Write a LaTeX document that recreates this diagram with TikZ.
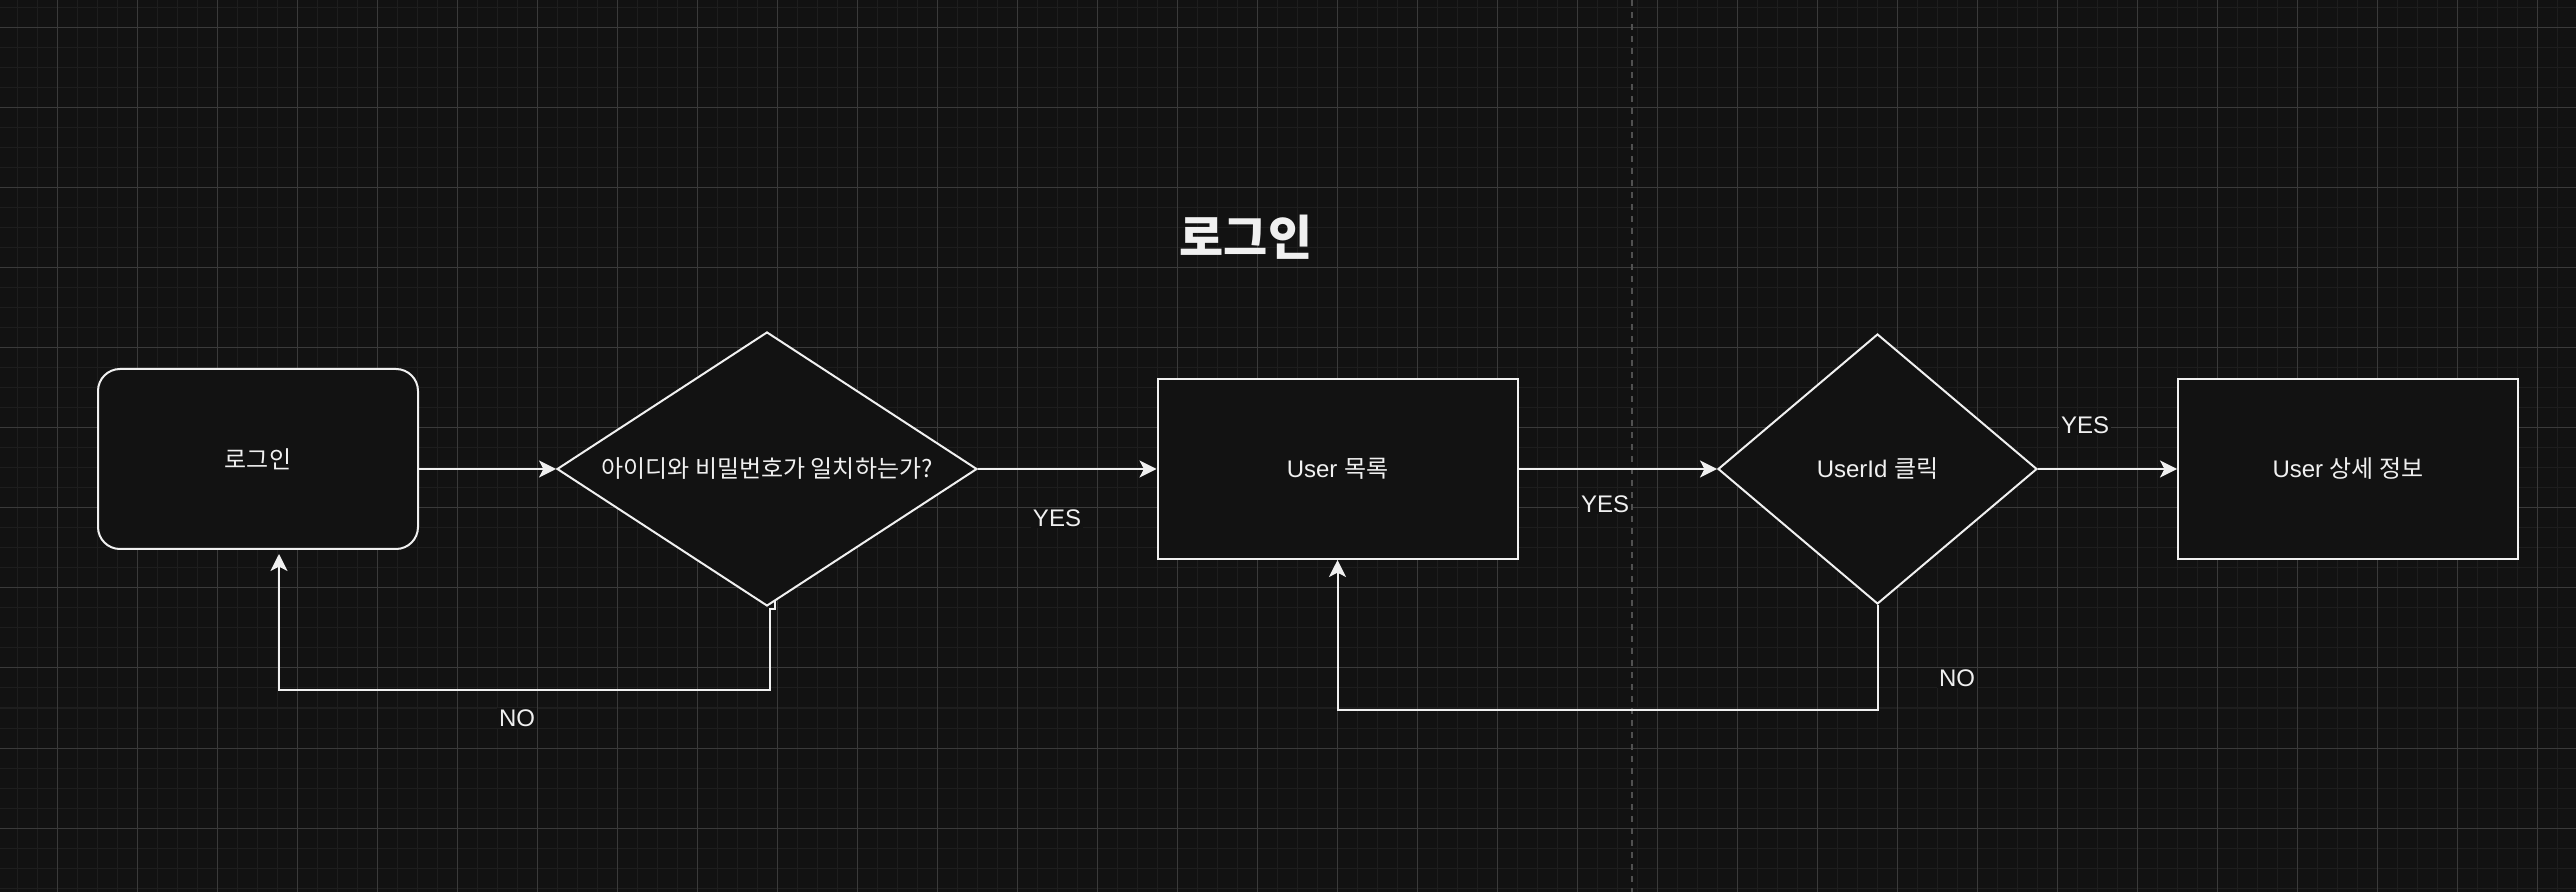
\documentclass[tikz,border=0pt]{standalone}
\usepackage{fontspec}
\setmainfont{Liberation Sans}
\newfontfamily\kr[RawFeature=+palt]{Noto Sans CJK KR}
\usepackage{tikz}
\usetikzlibrary{calc}
\usetikzlibrary{shapes.geometric,arrows.meta}
\definecolor{canvas}{HTML}{121212}
\definecolor{minorgrid}{HTML}{1E1E1E}
\definecolor{majorgrid}{HTML}{3A3A3A}
\definecolor{ink}{HTML}{F0F0F0}
\definecolor{sepline}{HTML}{505050}

\begin{document}
\begin{tikzpicture}[x=0.5pt, y=-0.5pt,
        box/.style={draw=ink, line width=1pt, fill=canvas, text=ink, inner sep=0pt, font=\fontsize{12}{14}\selectfont},
        decision/.style={box, diamond},
        flow/.style={draw=ink, line width=1pt, -{Stealth[length=8.5pt, width=8.5pt, inset=2.2pt]}},
        lbl/.style={text=ink, fill=canvas, inner sep=1pt, font=\fontsize{12}{14}\selectfont}]
        \useasboundingbox (0,0) rectangle (2576,892);
        \fill[canvas] (0,0) rectangle (2576,892);
        % grid
        \foreach \gx in {17.5,37.5,...,2576} \draw[minorgrid, line width=0.5pt] (\gx,0) -- (\gx,892);
        \foreach \gy in {8,28,...,892} \draw[minorgrid, line width=0.5pt] (0,\gy) -- (2576,\gy);
        \foreach \gx in {57.5,137.5,...,2576} \draw[majorgrid, line width=0.5pt] (\gx,0) -- (\gx,892);
        \foreach \gy in {28,108,...,892} \draw[majorgrid, line width=0.5pt] (0,\gy) -- (2576,\gy);
        \draw[sepline, line width=0.75pt, dash pattern=on 3pt off 3pt] (1632,0) -- (1632,892);

        \node[text=ink, font=\kr\bfseries\fontsize{24}{28}\selectfont](title) at (1246,237) {로그인};

        \node[box, rounded corners=11pt, minimum width=160pt, minimum height=90pt](login) at (258,459) {\kr 로그인};
        \node[decision, aspect=1.53, minimum width=210pt, minimum height=137pt](idcheck) at (767,469) {\kr 아이디와 비밀번호가 일치하는가?};
        \node[box, minimum width=180pt, minimum height=90pt](userlist) at (1337.5,469) {User {\kr 목록}};
        \node[decision, aspect=1.18, minimum width=159.5pt, minimum height=135pt](idclick) at (1877.5,469) {UserId {\kr 클릭}};
        \node[box, minimum width=170pt, minimum height=90pt](userinfo) at (2348,469) {User {\kr 상세 정보}};

        \draw[flow] (login.east |- idcheck.west) -- (idcheck.west);
        \draw[flow] (idcheck.east) -- (userlist.west);
        \draw[flow] ($(idcheck.south)!0.04!(idcheck.east)$) -- ++(0,8) -| ($(idcheck.south)+(3,83)$) -| ($(login.south)+(21,4)$);
        \draw[flow] (userlist.east) -- (idclick.west);
        \draw[flow] (idclick.east) -- (userinfo.west);
        \draw[flow] (idclick.south) -- ++(0,105) -| (userlist.south);

        \node[lbl](yes1) at (1057,518) {YES};
        \node[lbl](no1) at (517,718) {NO};
        \node[lbl](yes2) at (1605,504) {YES};
        \node[lbl](yes3) at (2085,425) {YES};
        \node[lbl](no2) at (1957,678) {NO};
    \end{tikzpicture}
\end{document}
